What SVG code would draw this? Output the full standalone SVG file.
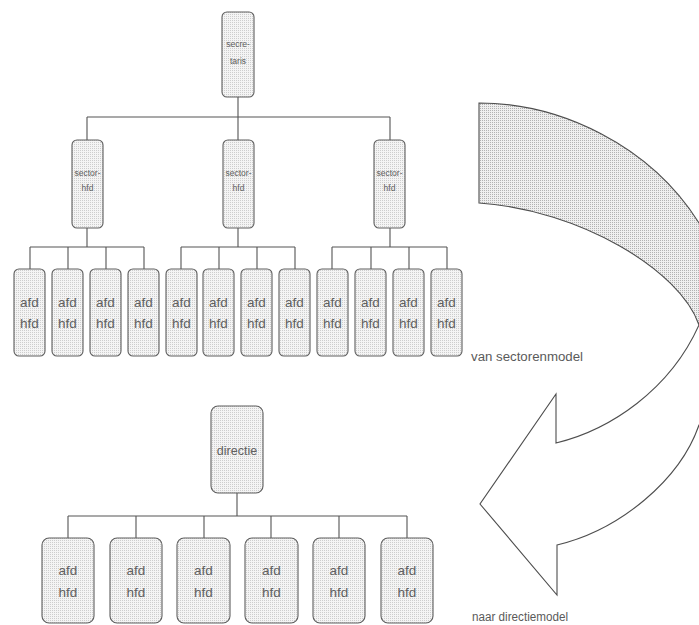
<svg xmlns="http://www.w3.org/2000/svg" width="699" height="625" viewBox="0 0 699 625">
  <defs>
    <!-- fine stipple used inside the boxes -->
    <pattern id="dots-light" width="2" height="2" patternUnits="userSpaceOnUse">
      <rect width="2" height="2" fill="#f4f4f4"/>
      <rect x="0" y="0" width="1" height="1" fill="#cdcdcd"/>
    </pattern>
    <!-- denser stipple for the curved arrow -->
    <pattern id="dots-dark" width="2" height="2" patternUnits="userSpaceOnUse">
      <rect width="2" height="2" fill="#efefef"/>
      <rect x="0" y="0" width="1" height="1" fill="#b2b2b2"/>
    </pattern>
    <clipPath id="arrow-top">
      <rect x="0" y="0" width="699" height="325"/>
    </clipPath>
    <path id="arrow-shape" d="M479,103 C560,103 650,145 699,223 C730,270 745,380 699,425 C680,480 620,530 557,545 L557,595 L480,504 L556,394 L556,443 C610,430 670,390 699,325 C680,270 580,210 479,203 Z"/>
  </defs>
  <style>
    .box { fill: url(#dots-light); stroke: #5e5e5e; stroke-width: 1.1; }
    .wire { fill: none; stroke: #545454; stroke-width: 1.1; }
    .lbl { font-family: "Liberation Sans", Arial, sans-serif; fill: #606060; text-anchor: middle; }
    .big { font-size: 13.5px; }
    .small { font-size: 8.5px; }
    .caption { font-family: "Liberation Sans", Arial, sans-serif; fill: #5a5a5a; font-size: 12.5px; }
  </style>

  <rect width="699" height="625" fill="#ffffff"/>

  <!-- curved transition arrow -->
  <g id="arrow">
    <use href="#arrow-shape" fill="#ffffff"/>
    <use href="#arrow-shape" fill="url(#dots-dark)" clip-path="url(#arrow-top)"/>
    <use href="#arrow-shape" fill="none" stroke="#4e4e4e" stroke-width="1.1" stroke-linejoin="miter"/>
  </g>

  <!-- connectors -->
  <g id="connectors" class="wire">
    <!-- sector model -->
    <path d="M238,97 V117 M87,117 H390 M87,117 V140 M238,117 V140 M390,117 V140"/>
    <path d="M87,228 V247 M30,247 H144 M30,247 V269 M68,247 V269 M106,247 V269 M144,247 V269"/>
    <path d="M238,228 V247 M181,247 H295 M181,247 V269 M219,247 V269 M257,247 V269 M295,247 V269"/>
    <path d="M390,228 V247 M332,247 H447 M332,247 V269 M371,247 V269 M409,247 V269 M447,247 V269"/>
    <!-- direction model -->
    <path d="M237,493 V516 M68,516 H407 M68,516 V538 M136,516 V538 M204,516 V538 M271,516 V538 M339,516 V538 M407,516 V538"/>
  </g>

  <!-- sector model -->
  <g id="secretaris">
    <rect class="box" x="222" y="12" width="32" height="85" rx="5"/>
    <text class="lbl small" x="238" y="47">secre-</text>
    <text class="lbl small" x="238" y="64">taris</text>
  </g>
  <g id="sectorhfd-1">
    <rect class="box" x="72" y="140" width="31" height="88" rx="5"/>
    <text class="lbl small" x="87.5" y="176">sector-</text>
    <text class="lbl small" x="87.5" y="191">hfd</text>
  </g>
  <g id="sectorhfd-2">
    <rect class="box" x="223" y="140" width="31" height="88" rx="5"/>
    <text class="lbl small" x="238.5" y="176">sector-</text>
    <text class="lbl small" x="238.5" y="191">hfd</text>
  </g>
  <g id="sectorhfd-3">
    <rect class="box" x="374" y="140" width="31" height="88" rx="5"/>
    <text class="lbl small" x="389.5" y="176">sector-</text>
    <text class="lbl small" x="389.5" y="191">hfd</text>
  </g>

  <g id="afd-s1"><rect class="box" x="14" y="269" width="31" height="87" rx="5"/><text class="lbl big" x="29.5" y="307">afd</text><text class="lbl big" x="29.5" y="328">hfd</text></g>
  <g id="afd-s2"><rect class="box" x="52" y="269" width="31" height="87" rx="5"/><text class="lbl big" x="67.5" y="307">afd</text><text class="lbl big" x="67.5" y="328">hfd</text></g>
  <g id="afd-s3"><rect class="box" x="90" y="269" width="31" height="87" rx="5"/><text class="lbl big" x="105.5" y="307">afd</text><text class="lbl big" x="105.5" y="328">hfd</text></g>
  <g id="afd-s4"><rect class="box" x="128" y="269" width="31" height="87" rx="5"/><text class="lbl big" x="143.5" y="307">afd</text><text class="lbl big" x="143.5" y="328">hfd</text></g>
  <g id="afd-s5"><rect class="box" x="166" y="269" width="31" height="87" rx="5"/><text class="lbl big" x="181.5" y="307">afd</text><text class="lbl big" x="181.5" y="328">hfd</text></g>
  <g id="afd-s6"><rect class="box" x="203" y="269" width="31" height="87" rx="5"/><text class="lbl big" x="218.5" y="307">afd</text><text class="lbl big" x="218.5" y="328">hfd</text></g>
  <g id="afd-s7"><rect class="box" x="241" y="269" width="31" height="87" rx="5"/><text class="lbl big" x="256.5" y="307">afd</text><text class="lbl big" x="256.5" y="328">hfd</text></g>
  <g id="afd-s8"><rect class="box" x="279" y="269" width="31" height="87" rx="5"/><text class="lbl big" x="294.5" y="307">afd</text><text class="lbl big" x="294.5" y="328">hfd</text></g>
  <g id="afd-s9"><rect class="box" x="317" y="269" width="31" height="87" rx="5"/><text class="lbl big" x="332.5" y="307">afd</text><text class="lbl big" x="332.5" y="328">hfd</text></g>
  <g id="afd-s10"><rect class="box" x="355" y="269" width="31" height="87" rx="5"/><text class="lbl big" x="370.5" y="307">afd</text><text class="lbl big" x="370.5" y="328">hfd</text></g>
  <g id="afd-s11"><rect class="box" x="393" y="269" width="31" height="87" rx="5"/><text class="lbl big" x="408.5" y="307">afd</text><text class="lbl big" x="408.5" y="328">hfd</text></g>
  <g id="afd-s12"><rect class="box" x="431" y="269" width="31" height="87" rx="5"/><text class="lbl big" x="446.5" y="307">afd</text><text class="lbl big" x="446.5" y="328">hfd</text></g>

  <text class="caption" x="471" y="361" textLength="112" lengthAdjust="spacingAndGlyphs">van sectorenmodel</text>

  <!-- direction model -->
  <g id="directie">
    <rect class="box" x="211" y="406" width="52" height="87" rx="7"/>
    <text class="lbl" font-size="12.5" x="237" y="455">directie</text>
  </g>
  <g id="afd-d1"><rect class="box" x="42" y="538" width="52" height="85" rx="7"/><text class="lbl big" x="68" y="575">afd</text><text class="lbl big" x="68" y="597">hfd</text></g>
  <g id="afd-d2"><rect class="box" x="110" y="538" width="52" height="85" rx="7"/><text class="lbl big" x="136" y="575">afd</text><text class="lbl big" x="136" y="597">hfd</text></g>
  <g id="afd-d3"><rect class="box" x="177" y="538" width="53" height="85" rx="7"/><text class="lbl big" x="203.5" y="575">afd</text><text class="lbl big" x="203.5" y="597">hfd</text></g>
  <g id="afd-d4"><rect class="box" x="245" y="538" width="53" height="85" rx="7"/><text class="lbl big" x="271.5" y="575">afd</text><text class="lbl big" x="271.5" y="597">hfd</text></g>
  <g id="afd-d5"><rect class="box" x="313" y="538" width="52" height="85" rx="7"/><text class="lbl big" x="339" y="575">afd</text><text class="lbl big" x="339" y="597">hfd</text></g>
  <g id="afd-d6"><rect class="box" x="381" y="538" width="52" height="85" rx="7"/><text class="lbl big" x="407" y="575">afd</text><text class="lbl big" x="407" y="597">hfd</text></g>

  <text class="caption" x="472" y="621" textLength="96" lengthAdjust="spacingAndGlyphs">naar directiemodel</text>
</svg>
